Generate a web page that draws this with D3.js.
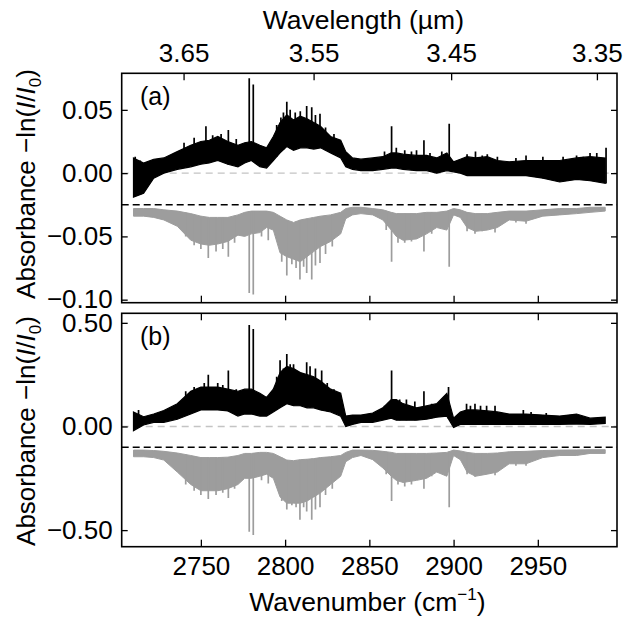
<!DOCTYPE html>
<html>
<head>
<meta charset="utf-8">
<script src="https://cdn.jsdelivr.net/npm/d3@7"></script>
<style>
  body { margin: 0; background: white; }
  text { font-family: "Liberation Sans", Arial, sans-serif; }
</style>
</head>
<body>
<div id="container"></div>
<script>
let w = 626;
let h = 622;

// wavenumber grid (cm-1) for the envelopes
let nu = [2710, 2716, 2722, 2728, 2736, 2744, 2750, 2755, 2760, 2766, 2772, 2776, 2780, 2785, 2789,
  2793, 2797, 2801, 2805, 2809, 2813, 2817, 2821, 2827, 2833, 2836, 2840, 2845, 2852, 2858, 2863,
  2866, 2870, 2878, 2884, 2890, 2896, 2900, 2904, 2908, 2913, 2920, 2926, 2933, 2943, 2953, 2963,
  2973, 2981, 2990];

// panel (a): sample spectrum, upper / lower edge of the noisy trace
let aHi = [0.012, 0.008, 0.011, 0.012, 0.017, 0.022, 0.025, 0.026, 0.029, 0.025, 0.022, 0.024, 0.025, 0.022, 0.020,
  0.029, 0.040, 0.046, 0.042, 0.045, 0.043, 0.040, 0.037, 0.029, 0.026, 0.017, 0.012, 0.011, 0.012, 0.013, 0.016,
  0.016, 0.015, 0.014, 0.014, 0.012, 0.016, 0.009, 0.011, 0.013, 0.012, 0.013, 0.010, 0.009, 0.010, 0.010, 0.010,
  0.012, 0.013, 0.012];
let aLo = [-0.019, -0.016, -0.004, 0.000, 0.003, 0.005, 0.007, 0.008, 0.010, 0.007, 0.005, 0.008, 0.010, 0.005, 0.004,
  0.010, 0.016, 0.021, 0.018, 0.020, 0.020, 0.019, 0.020, 0.016, 0.012, 0.005, 0.003, 0.002, 0.002, 0.003, 0.004,
  0.004, 0.003, 0.002, 0.002, 0.000, 0.002, 0.001, 0.000, -0.002, -0.002, -0.002, -0.002, -0.002, -0.002, -0.004, -0.007,
  -0.005, -0.006, -0.008];
let aPeaks = [[2711, 0.013], [2714, 0.010], [2740, 0.024], [2746, 0.028], [2753, 0.037], [2757, 0.030], [2762, 0.031],
  [2766.3, 0.034], [2771, 0.027], [2778.7, 0.075], [2781.1, 0.070], [2795, 0.038], [2797.5, 0.044], [2799, 0.048],
  [2801, 0.0565], [2803, 0.050], [2806, 0.048], [2809, 0.049], [2812.8, 0.053], [2815.8, 0.052], [2818, 0.046],
  [2820.7, 0.047], [2824, 0.036], [2829, 0.031], [2859, 0.017], [2863.2, 0.037], [2866, 0.020], [2871, 0.018],
  [2875, 0.017], [2878, 0.018], [2882.4, 0.026], [2886, 0.016], [2893, 0.017], [2897.4, 0.039], [2908, 0.015],
  [2913, 0.017], [2917, 0.014], [2920, 0.015], [2926, 0.013], [2937, 0.012], [2943, 0.014], [2953, 0.013],
  [2965, 0.013], [2973, 0.014], [2977, 0.013], [2981, 0.016], [2985, 0.016], [2990.5, 0.020]];

// panel (a): reference spectrum (grey, offset below the dashed line)
let aRefHi = [-0.028, -0.028, -0.028, -0.029, -0.030, -0.032, -0.034, -0.035, -0.035, -0.035, -0.033, -0.031, -0.030, -0.030, -0.030,
  -0.031, -0.034, -0.037, -0.039, -0.037, -0.036, -0.035, -0.034, -0.033, -0.031, -0.028, -0.027, -0.027, -0.028, -0.029, -0.031,
  -0.032, -0.032, -0.032, -0.031, -0.031, -0.030, -0.028, -0.029, -0.031, -0.032, -0.032, -0.031, -0.030, -0.030, -0.029, -0.028,
  -0.028, -0.027, -0.027];
let aRefLo = [-0.034, -0.034, -0.035, -0.037, -0.042, -0.053, -0.056, -0.057, -0.056, -0.054, -0.049, -0.050, -0.048, -0.047, -0.043,
  -0.045, -0.063, -0.066, -0.068, -0.070, -0.066, -0.062, -0.058, -0.054, -0.048, -0.036, -0.033, -0.032, -0.033, -0.037, -0.045,
  -0.050, -0.053, -0.052, -0.048, -0.043, -0.045, -0.033, -0.035, -0.043, -0.046, -0.045, -0.043, -0.037, -0.038, -0.034, -0.033,
  -0.032, -0.031, -0.030];
let aRefDips = [[2741, -0.050], [2746, -0.057], [2750, -0.060], [2754.4, -0.067], [2759, -0.062], [2763, -0.060],
  [2766.3, -0.066], [2770, -0.055], [2778.7, -0.0947], [2781.1, -0.096], [2786, -0.050], [2790, -0.053],
  [2798, -0.070], [2801, -0.081], [2804, -0.072], [2806.5, -0.075], [2808.8, -0.084], [2811, -0.074],
  [2812.8, -0.079], [2815.8, -0.084], [2818, -0.073], [2820.7, -0.071], [2824, -0.064], [2828, -0.058],
  [2860, -0.045], [2863.2, -0.070], [2867, -0.055], [2871, -0.055], [2875, -0.054], [2882.4, -0.062],
  [2887, -0.048], [2897.4, -0.074], [2908, -0.046], [2912.7, -0.048], [2917, -0.046], [2924.6, -0.047],
  [2937, -0.039], [2943, -0.040]];

// panel (b): sample spectrum
let bHi = [0.070, 0.047, 0.060, 0.077, 0.110, 0.170, 0.190, 0.190, 0.190, 0.180, 0.170, 0.180, 0.180, 0.160, 0.140,
  0.180, 0.260, 0.290, 0.280, 0.260, 0.250, 0.240, 0.220, 0.180, 0.160, 0.050, 0.055, 0.055, 0.065, 0.090, 0.130,
  0.130, 0.110, 0.090, 0.100, 0.110, 0.160, 0.040, 0.070, 0.080, 0.080, 0.075, 0.070, 0.060, 0.060, 0.055, 0.050,
  0.060, 0.040, 0.045];
let bLo = [-0.020, 0.007, 0.020, 0.020, 0.035, 0.060, 0.080, 0.080, 0.080, 0.075, 0.050, 0.060, 0.060, 0.050, 0.050,
  0.070, 0.090, 0.110, 0.100, 0.100, 0.090, 0.090, 0.080, 0.070, 0.050, 0.000, 0.010, 0.020, 0.020, 0.030, 0.040,
  0.030, 0.030, 0.030, 0.035, 0.045, 0.050, -0.005, 0.010, 0.010, 0.010, 0.010, 0.010, 0.010, 0.010, 0.010, 0.010,
  0.012, 0.010, 0.015];
let bPeaks = [[2713, 0.080], [2741, 0.17], [2746, 0.19], [2752, 0.21], [2754.4, 0.25], [2760, 0.21], [2763, 0.20],
  [2766.3, 0.27], [2771, 0.18], [2778.7, 0.49], [2781.1, 0.47], [2795, 0.24], [2797, 0.32], [2799, 0.28],
  [2801, 0.35], [2803, 0.30], [2805, 0.30], [2809, 0.26], [2812.8, 0.31], [2814.8, 0.29], [2818, 0.28],
  [2821.7, 0.27], [2825, 0.21], [2829, 0.18], [2859, 0.10], [2863.2, 0.27], [2868, 0.13], [2872, 0.13],
  [2877, 0.12], [2882.4, 0.17], [2887, 0.11], [2897, 0.19], [2907.7, 0.11], [2910, 0.10], [2912.7, 0.11],
  [2916, 0.10], [2919.6, 0.10], [2924.6, 0.10], [2941.4, 0.08], [2946, 0.07], [2955, 0.065], [2974, 0.05]];

// panel (b): reference spectrum
let bRefHi = [-0.114, -0.114, -0.116, -0.120, -0.128, -0.140, -0.150, -0.150, -0.150, -0.148, -0.140, -0.130, -0.130, -0.125, -0.125,
  -0.130, -0.146, -0.162, -0.165, -0.160, -0.158, -0.155, -0.150, -0.146, -0.140, -0.125, -0.114, -0.114, -0.115, -0.120, -0.125,
  -0.130, -0.130, -0.130, -0.130, -0.128, -0.125, -0.114, -0.118, -0.125, -0.130, -0.130, -0.128, -0.122, -0.120, -0.116, -0.114,
  -0.113, -0.112, -0.112];
let bRefLo = [-0.146, -0.146, -0.150, -0.162, -0.22, -0.28, -0.31, -0.31, -0.31, -0.30, -0.28, -0.25, -0.25, -0.24, -0.23,
  -0.25, -0.34, -0.37, -0.37, -0.37, -0.36, -0.34, -0.32, -0.28, -0.24, -0.17, -0.15, -0.14, -0.16, -0.20, -0.24,
  -0.26, -0.27, -0.26, -0.25, -0.22, -0.24, -0.14, -0.16, -0.22, -0.24, -0.23, -0.22, -0.18, -0.18, -0.15, -0.14,
  -0.14, -0.13, -0.13];
let bRefDips = [[2741, -0.28], [2746, -0.31], [2750, -0.33], [2754.4, -0.35], [2759, -0.33], [2763, -0.32],
  [2766.3, -0.345], [2770, -0.30], [2778.7, -0.508], [2781.1, -0.524], [2786, -0.26], [2790, -0.275],
  [2798, -0.36], [2801, -0.40], [2804, -0.38], [2806.5, -0.39], [2808.8, -0.45], [2811, -0.39],
  [2812.8, -0.41], [2815.8, -0.45], [2818, -0.40], [2820.7, -0.39], [2824, -0.33], [2828, -0.30],
  [2860, -0.23], [2863.2, -0.36], [2867, -0.28], [2871, -0.29], [2875, -0.28], [2882.4, -0.30],
  [2887, -0.24], [2897.4, -0.39], [2908, -0.23], [2912.7, -0.243], [2917, -0.23], [2924.6, -0.235],
  [2937, -0.19], [2943, -0.19]];

// ticks
let wavenumberTicks = [2750, 2800, 2850, 2900, 2950];
let wavelengthTicks = [3.65, 3.55, 3.45, 3.35];
let aTicks = [0.05, 0.00, -0.05, -0.10];
let bTicks = [0.50, 0.00, -0.50];

let left = 121.7;
let right = 617;
let fontSize = 26;
let refColor = "#9d9d9d";

let viz = d3.select("#container")
  .append("svg")
    .attr("width", w)
    .attr("height", h)
    .style("background-color", "white")
;

let xScale = d3.scaleLinear().domain([2703, 2997]).range([left, right]);

function styleAxis(g){
  g.select(".domain").remove();
  g.selectAll(".tick line").attr("stroke", "black").attr("stroke-width", 1.3);
  g.selectAll(".tick text")
    .attr("fill", "black")
    .attr("font-size", fontSize)
    .attr("font-family", "Liberation Sans, Arial, sans-serif");
}

function drawPanel(opts){
  let yScale = d3.scaleLinear().domain(opts.domain).range([opts.bottom, opts.top]);
  let panel = viz.append("g").attr("class", "panel-" + opts.name);

  let clipId = "clip-" + opts.name;
  panel.append("clipPath").attr("id", clipId)
    .append("rect")
      .attr("x", left)
      .attr("y", opts.top)
      .attr("width", right - left)
      .attr("height", opts.bottom - opts.top)
  ;
  let plot = panel.append("g").attr("clip-path", "url(#" + clipId + ")");

  // light dashed zero line of the sample trace
  plot.append("line")
    .attr("x1", left).attr("x2", right)
    .attr("y1", yScale(0)).attr("y2", yScale(0))
    .attr("stroke", "#c4c4c4")
    .attr("stroke-width", 1.3)
    .attr("stroke-dasharray", "7,5")
  ;
  // black dashed zero line of the offset reference
  plot.append("line")
    .attr("x1", left).attr("x2", right)
    .attr("y1", yScale(opts.offset)).attr("y2", yScale(opts.offset))
    .attr("stroke", "black")
    .attr("stroke-width", 1.6)
    .attr("stroke-dasharray", "7,4")
  ;

  let band = d3.area()
    .x(function(d, i){ return xScale(nu[i]); })
    .y0(function(d){ return yScale(d[0]); })
    .y1(function(d){ return yScale(d[1]); })
  ;

  // reference trace: grey band plus its deep lines
  let refData = opts.refHi.map(function(v, i){ return [opts.refLo[i], v]; });
  plot.append("path")
    .datum(refData)
    .attr("d", band)
    .attr("fill", refColor)
    .attr("stroke", refColor)
    .attr("stroke-width", 1)
  ;
  let refTop = d3.scaleLinear().domain(nu).range(opts.refHi);
  plot.selectAll(".dip").data(opts.refDips).enter()
    .append("line")
      .attr("class", "dip")
      .attr("x1", function(d){ return xScale(d[0]); })
      .attr("x2", function(d){ return xScale(d[0]); })
      .attr("y1", function(d){ return yScale(refTop(d[0])); })
      .attr("y2", function(d){ return yScale(d[1]); })
      .attr("stroke", refColor)
      .attr("stroke-width", 1.7)
  ;

  // sample trace: black band plus its sharp lines
  let sampleData = opts.hi.map(function(v, i){ return [opts.lo[i], v]; });
  plot.append("path")
    .datum(sampleData)
    .attr("d", band)
    .attr("fill", "black")
    .attr("stroke", "black")
    .attr("stroke-width", 1.2)
  ;
  let sampleBase = d3.scaleLinear().domain(nu).range(opts.lo);
  plot.selectAll(".peak").data(opts.peaks).enter()
    .append("line")
      .attr("class", "peak")
      .attr("x1", function(d){ return xScale(d[0]); })
      .attr("x2", function(d){ return xScale(d[0]); })
      .attr("y1", function(d){ return yScale(sampleBase(d[0])); })
      .attr("y2", function(d){ return yScale(d[1]); })
      .attr("stroke", "black")
      .attr("stroke-width", 1.7)
  ;

  // axes, all ticks pointing inwards
  let yLeft = d3.axisLeft(yScale).tickValues(opts.ticks).tickFormat(d3.format(".2f"))
    .tickSizeInner(-6).tickSizeOuter(0).tickPadding(9);
  panel.append("g").attr("transform", "translate(" + left + ",0)").call(yLeft).call(styleAxis);

  let yRight = d3.axisRight(yScale).tickValues(opts.ticks).tickFormat("")
    .tickSizeInner(-6).tickSizeOuter(0);
  panel.append("g").attr("transform", "translate(" + right + ",0)").call(yRight).call(styleAxis);

  let xBottom = d3.axisBottom(xScale).tickValues(wavenumberTicks).tickFormat(d3.format("d"))
    .tickSizeInner(-7).tickSizeOuter(0).tickPadding(10);
  if(!opts.bottomLabels){ xBottom.tickFormat(""); }
  panel.append("g").attr("transform", "translate(0," + opts.bottom + ")").call(xBottom).call(styleAxis);

  let xTop;
  if(opts.wavelengthTop){
    xTop = d3.axisTop(xScale)
      .tickValues(wavelengthTicks.map(function(l){ return 1e4 / l; }))
      .tickFormat(function(d, i){ return wavelengthTicks[i].toFixed(2); })
      .tickSizeInner(-7).tickSizeOuter(0).tickPadding(11);
  }else{
    xTop = d3.axisTop(xScale).tickValues(wavenumberTicks).tickFormat("")
      .tickSizeInner(-7).tickSizeOuter(0);
  }
  panel.append("g").attr("transform", "translate(0," + opts.top + ")").call(xTop).call(styleAxis);

  // frame
  panel.append("rect")
    .attr("x", left)
    .attr("y", opts.top)
    .attr("width", right - left)
    .attr("height", opts.bottom - opts.top)
    .attr("fill", "none")
    .attr("stroke", "black")
    .attr("stroke-width", 1.6)
  ;

  // panel letter
  panel.append("text")
    .text(opts.letter)
    .attr("x", 140)
    .attr("y", opts.top + 32)
    .attr("font-size", 25)
    .attr("fill", "black")
  ;

  // y title
  let title = panel.append("text")
    .attr("transform", "translate(35," + opts.titleY + ") rotate(-90)")
    .attr("text-anchor", "middle")
    .attr("font-size", 26)
    .attr("fill", "black")
  ;
  title.append("tspan").text("Absorbance \u2212ln(");
  title.append("tspan").text("I").attr("font-style", "italic");
  title.append("tspan").text("/");
  title.append("tspan").text("I").attr("font-style", "italic");
  title.append("tspan").text("0").attr("font-size", 17).attr("dy", 6);
  title.append("tspan").text(")").attr("dy", -6);
}

drawPanel({
  name: "a", letter: "(a)", top: 73.3, bottom: 302.7, domain: [-0.1024, 0.0789],
  offset: -0.025, hi: aHi, lo: aLo, peaks: aPeaks,
  refHi: aRefHi, refLo: aRefLo, refDips: aRefDips,
  ticks: aTicks, bottomLabels: false, wavelengthTop: true, titleY: 184
});

drawPanel({
  name: "b", letter: "(b)", top: 313.3, bottom: 546.7, domain: [-0.580, 0.546],
  offset: -0.10, hi: bHi, lo: bLo, peaks: bPeaks,
  refHi: bRefHi, refLo: bRefLo, refDips: bRefDips,
  ticks: bTicks, bottomLabels: true, wavelengthTop: false, titleY: 431
});

// axis titles
viz.append("text")
  .text("Wavelength (\u00b5m)")
  .attr("x", (left + right) / 2 - 6)
  .attr("y", 29)
  .attr("text-anchor", "middle")
  .attr("font-size", 26.5)
  .attr("fill", "black")
;

let xTitle = viz.append("text")
  .attr("x", (left + right) / 2 - 2)
  .attr("y", 611)
  .attr("text-anchor", "middle")
  .attr("font-size", 26.5)
  .attr("fill", "black")
;
xTitle.append("tspan").text("Wavenumber (cm");
xTitle.append("tspan").text("\u22121").attr("font-size", 17).attr("dy", -11);
xTitle.append("tspan").text(")").attr("dy", 11);
</script>
</body>
</html>
